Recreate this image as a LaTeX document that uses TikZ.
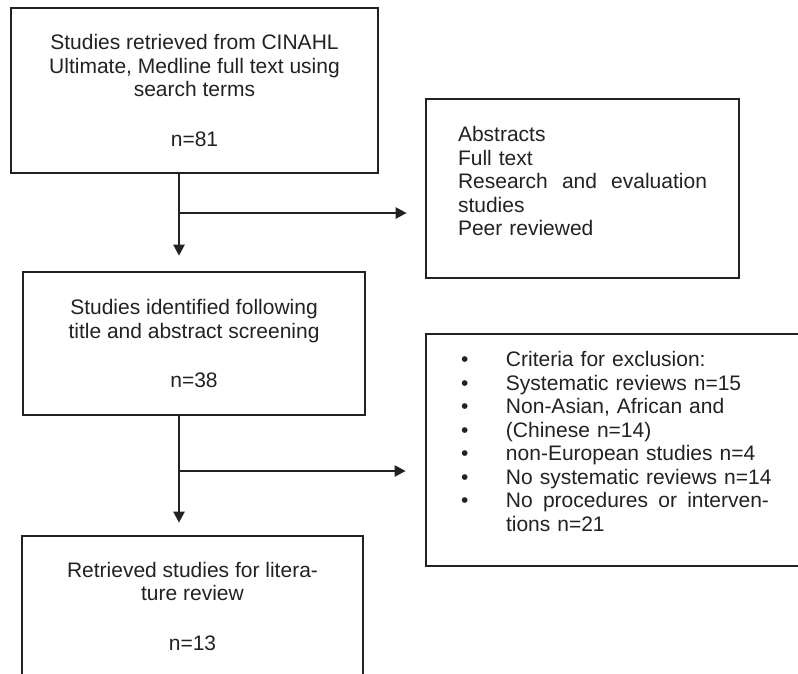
\documentclass[tikz,border=0pt]{standalone}
\usepackage{fontspec}
\setmainfont{Liberation Sans}
\usetikzlibrary{arrows.meta}
\definecolor{ink}{RGB}{34,34,34}
\tikzset{
  box/.style={draw=ink, line width=2.7pt, text=ink, inner sep=0pt,
    font=\fontsize{21}{23.5}\selectfont},
  conn/.style={draw=ink, line width=2.3pt},
  arr/.style={conn, -{Triangle[length=11pt,width=11pt]}}
}
\begin{document}
\begin{tikzpicture}[x=1pt,y=-1pt]
\useasboundingbox (0,0) rectangle (798,673);
\clip (0,0) rectangle (798,673);
\fill[white] (0,0) rectangle (798,673);

\node[box, minimum width=367pt, minimum height=165pt, align=center] (b1) at (194.5,90.5)
  {Studies retrieved from CINAHL\\Ultimate, Medline full text using\\search terms\\[26pt]n=81};

\node[box, minimum width=313pt, minimum height=179pt, text width=249pt, inner xsep=32pt, align=left] (bA) at (582.5,188.5)
  {Abstracts\\Full text\\\makebox[249pt][l]{Research\hfill and\hfill evaluation}\\studies\\Peer reviewed\\[-9pt]\mbox{}};

\node[box, minimum width=342pt, minimum height=143pt, align=center] (b2) at (194,343.5)
  {Studies identified following\\title and abstract screening\\[26pt]n=38};

\node[box, minimum width=386pt, minimum height=232pt, text width=316pt, inner xsep=35pt, align=left] (bB) at (619,450)
  {\makebox[45pt][l]{•}Criteria for exclusion:\\
   \makebox[45pt][l]{•}Systematic reviews n=15\\
   \makebox[45pt][l]{•}Non-Asian, African and\\
   \makebox[45pt][l]{•}(Chinese n=14)\\
   \makebox[45pt][l]{•}non-European studies n=4\\
   \makebox[45pt][l]{•}No systematic reviews n=14\\
   \makebox[45pt][l]{•}\makebox[263pt][l]{No\hfill procedures\hfill or\hfill interven-}\\
   \makebox[45pt][l]{}tions n=21\\[-6pt]\mbox{}};

\node[box, minimum width=341pt, minimum height=140pt, align=center] (b3) at (192.5,606)
  {Retrieved studies for litera-\\ture review\\[26pt]n=13};

\coordinate (j1) at (179,213);
\coordinate (j2) at (179,471);

\draw[arr, shorten >=15pt] (b1.south -| j1) -- (b2.north -| j1);
\draw[arr, shorten >=18pt] (j1) -- (bA.west |- j1);
\draw[arr, shorten >=12pt] (b2.south -| j2) -- (b3.north -| j2);
\draw[arr, shorten >=19pt] (j2) -- (bB.west |- j2);
\end{tikzpicture}
\end{document}
